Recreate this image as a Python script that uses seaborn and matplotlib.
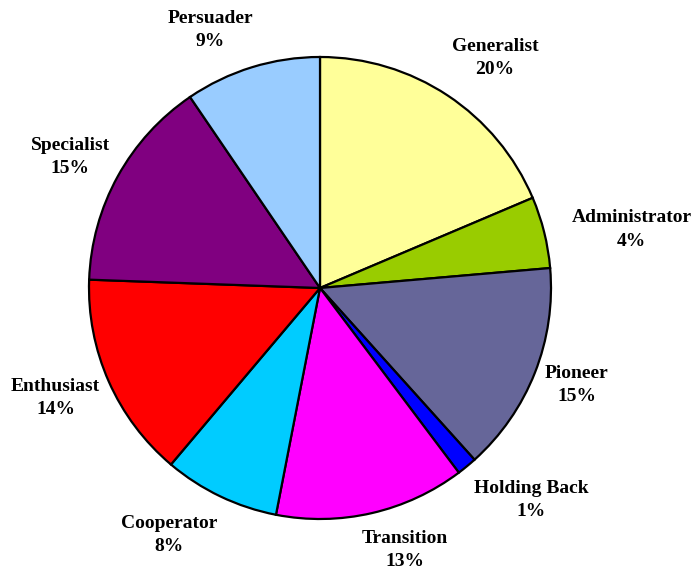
import seaborn as sns
import matplotlib.pyplot as plt
import numpy as np

# share of each type (clockwise from 12 o'clock)
types = ['Generalist', 'Administrator', 'Pioneer', 'Holding Back', 'Transition',
         'Cooperator', 'Enthusiast', 'Specialist', 'Persuader']
shares = [18.6, 5.0, 14.7, 1.4, 13.3, 8.1, 14.4, 14.9, 9.5]
pct_labels = ['20%', '4%', '15%', '1%', '13%', '8%', '14%', '15%', '9%']
colors = ['#FFFF99', '#99CC00', '#666699', '#0000FF', '#FF00FF',
          '#00CCFF', '#FF0000', '#800080', '#99CCFF']

# label placement: distance (pie radii) and angle (deg clockwise from top)
label_dist = [1.251, 1.372, 1.189, 1.295, 1.192, 1.252, 1.240, 1.222, 1.214]
label_ang = [37.3, 79.4, 110.7, 135.1, 162.0, 211.4, 247.4, 297.7, 336.9]

sns.set_style('white')
plt.rcParams['font.family'] = ['Liberation Serif', 'DejaVu Serif']

fig = plt.figure(figsize=(6.94, 5.73), dpi=100)
ax = fig.add_axes([0, 0, 1, 1])

wedges, _ = ax.pie(shares, colors=colors, startangle=90, counterclock=False,
                   wedgeprops=dict(edgecolor='black', linewidth=1.6))

for name, pct, d, a in zip(types, pct_labels, label_dist, label_ang):
    t = np.deg2rad(90 - a)
    ax.text(d * np.cos(t), d * np.sin(t), f'{name}\n{pct}',
            ha='center', va='center', fontsize=14, fontweight='bold',
            color='black', linespacing=1.5)

ax.set_xlim(-320 / 231, 374 / 231)
ax.set_ylim(-285 / 231, 288 / 231)
ax.axis('off')

fig.savefig('out.png', dpi=100)
